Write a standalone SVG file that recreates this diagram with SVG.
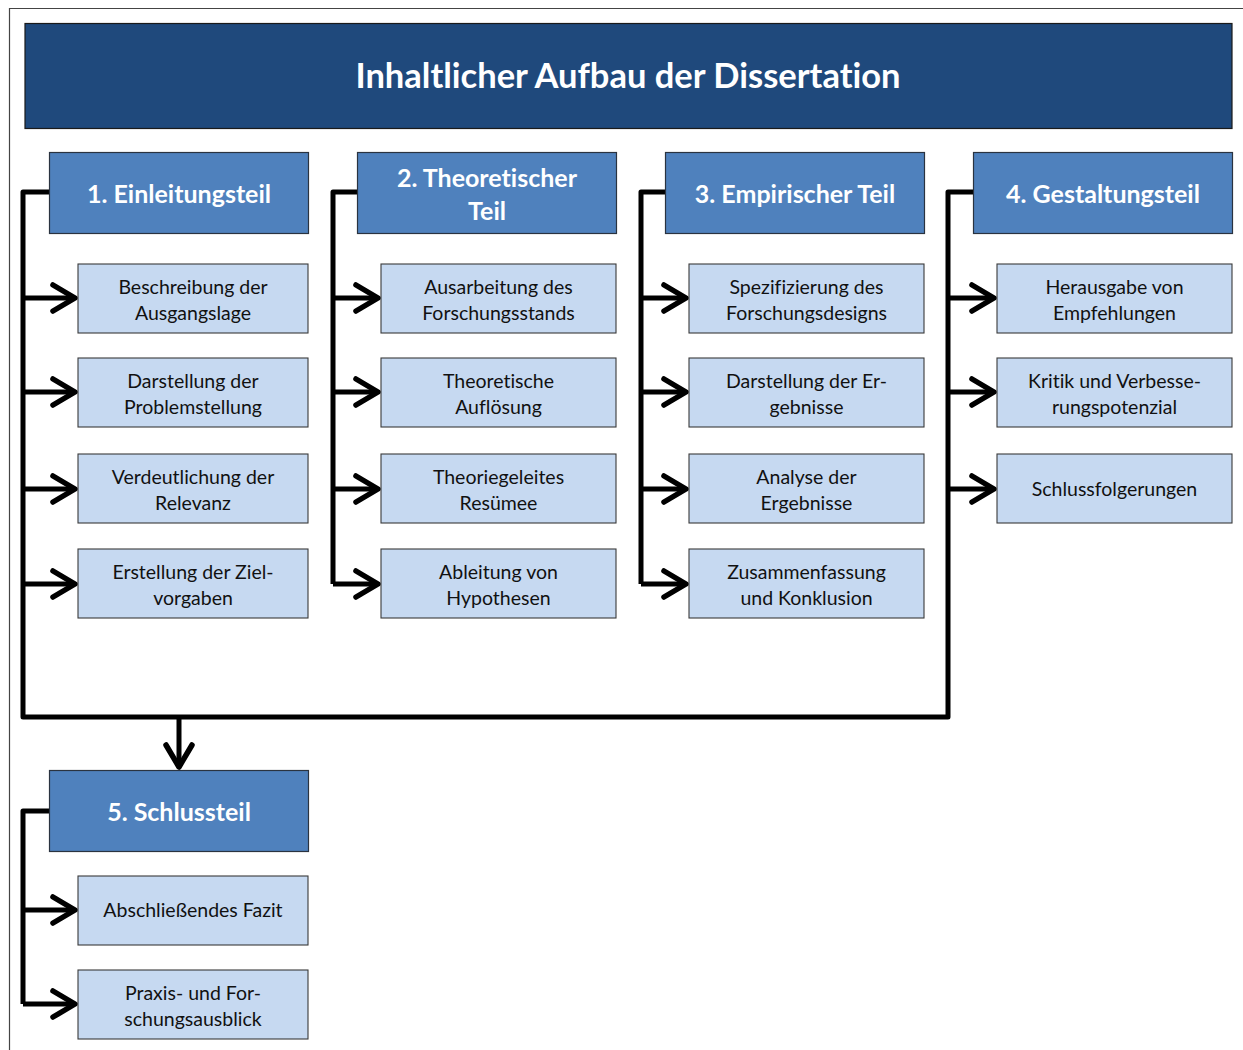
<svg xmlns="http://www.w3.org/2000/svg" width="1243" height="1050" viewBox="0 0 1243 1050">
  <defs>
    <style>
      .title { fill: #1F497C; stroke: #1a1a1a; stroke-width: 1.2; }
      .head { fill: #4F81BD; stroke: #2a3340; stroke-width: 1.2; }
      .item { fill: #C6D9F1; stroke: #3a3a3a; stroke-width: 1.1; }
      text { font-variant-ligatures: none; font-feature-settings: "liga" 0; }
      .t-title { font-family: Lato, "Open Sans", sans-serif; font-weight: bold; font-size: 34.5px; fill: #ffffff; text-anchor: middle; }
      .t-head { font-family: Lato, "Open Sans", sans-serif; font-weight: bold; font-size: 25px; fill: #ffffff; text-anchor: middle; }
      .t-item { font-family: Lato, "Open Sans", sans-serif; font-size: 19.5px; fill: #111111; text-anchor: middle; }
      .wire { fill: none; stroke: #000000; stroke-width: 5; stroke-linejoin: round; }
      .arrow { marker-end: url(#chev); }
    </style>
    <marker id="chev" markerUnits="userSpaceOnUse" viewBox="-30 -18 34 36" markerWidth="34" markerHeight="36" refX="0" refY="0" orient="auto" overflow="visible">
      <path d="M-22,-13 L0,0 L-22,13" fill="none" stroke="#000000" stroke-width="5.5" stroke-linejoin="round" stroke-linecap="round"/>
    </marker>
  </defs>

  <rect width="1243" height="1050" fill="#ffffff"/>
  <!-- page frame -->
  <path d="M9.5,1050 V8.5 H1243" fill="none" stroke="#444444" stroke-width="1.2"/>

  <!-- connectors -->
  <g id="connectors">
    <path class="wire" d="M49,192 H23 V717 H948 V192 H973"/>
    <path class="wire arrow" d="M179,717 V767"/>
    <path class="wire arrow" d="M23,298 H75"/>
    <path class="wire arrow" d="M23,392 H75"/>
    <path class="wire arrow" d="M23,489 H75"/>
    <path class="wire arrow" d="M23,584 H75"/>

    <path class="wire" d="M357,192 H333 V584"/>
    <path class="wire arrow" d="M333,298 H378"/>
    <path class="wire arrow" d="M333,392 H378"/>
    <path class="wire arrow" d="M333,489 H378"/>
    <path class="wire arrow" d="M333,584 H378"/>

    <path class="wire" d="M665,192 H641 V584"/>
    <path class="wire arrow" d="M641,298 H686"/>
    <path class="wire arrow" d="M641,392 H686"/>
    <path class="wire arrow" d="M641,489 H686"/>
    <path class="wire arrow" d="M641,584 H686"/>

    <path class="wire arrow" d="M948,298 H994"/>
    <path class="wire arrow" d="M948,392 H994"/>
    <path class="wire arrow" d="M948,489 H994"/>

    <path class="wire" d="M49,811 H23 V1004"/>
    <path class="wire arrow" d="M23,910 H75"/>
    <path class="wire arrow" d="M23,1004 H75"/>
  </g>

  <!-- title -->
  <g id="title">
    <rect class="title" x="25" y="23.5" width="1207" height="105"/>
    <text class="t-title" x="628" y="88">Inhaltlicher Aufbau der Dissertation</text>
  </g>

  <!-- section 1 -->
  <g id="s1">
    <rect class="head" x="49.5" y="152.5" width="259" height="81"/>
    <text class="t-head" x="179" y="203">1. Einleitungsteil</text>
  </g>
  <g id="s1a"><rect class="item" x="78" y="264" width="230" height="69"/>
    <text class="t-item" x="193" y="294">Beschreibung der</text><text class="t-item" x="193" y="320">Ausgangslage</text></g>
  <g id="s1b"><rect class="item" x="78" y="358" width="230" height="69"/>
    <text class="t-item" x="193" y="388">Darstellung der</text><text class="t-item" x="193" y="414">Problemstellung</text></g>
  <g id="s1c"><rect class="item" x="78" y="454" width="230" height="69"/>
    <text class="t-item" x="193" y="484">Verdeutlichung der</text><text class="t-item" x="193" y="510">Relevanz</text></g>
  <g id="s1d"><rect class="item" x="78" y="549" width="230" height="69"/>
    <text class="t-item" x="193" y="579">Erstellung der Ziel-</text><text class="t-item" x="193" y="605">vorgaben</text></g>

  <!-- section 2 -->
  <g id="s2">
    <rect class="head" x="357.5" y="152.5" width="259" height="81"/>
    <text class="t-head" x="487" y="187">2. Theoretischer</text>
    <text class="t-head" x="487" y="220">Teil</text>
  </g>
  <g id="s2a"><rect class="item" x="381" y="264" width="235" height="69"/>
    <text class="t-item" x="498.5" y="294">Ausarbeitung des</text><text class="t-item" x="498.5" y="320">Forschungsstands</text></g>
  <g id="s2b"><rect class="item" x="381" y="358" width="235" height="69"/>
    <text class="t-item" x="498.5" y="388">Theoretische</text><text class="t-item" x="498.5" y="414">Auflösung</text></g>
  <g id="s2c"><rect class="item" x="381" y="454" width="235" height="69"/>
    <text class="t-item" x="498.5" y="484">Theoriegeleites</text><text class="t-item" x="498.5" y="510">Resümee</text></g>
  <g id="s2d"><rect class="item" x="381" y="549" width="235" height="69"/>
    <text class="t-item" x="498.5" y="579">Ableitung von</text><text class="t-item" x="498.5" y="605">Hypothesen</text></g>

  <!-- section 3 -->
  <g id="s3">
    <rect class="head" x="665.5" y="152.5" width="259" height="81"/>
    <text class="t-head" x="795" y="203">3. Empirischer Teil</text>
  </g>
  <g id="s3a"><rect class="item" x="689" y="264" width="235" height="69"/>
    <text class="t-item" x="806.5" y="294">Spezifizierung des</text><text class="t-item" x="806.5" y="320">Forschungsdesigns</text></g>
  <g id="s3b"><rect class="item" x="689" y="358" width="235" height="69"/>
    <text class="t-item" x="806.5" y="388">Darstellung der Er-</text><text class="t-item" x="806.5" y="414">gebnisse</text></g>
  <g id="s3c"><rect class="item" x="689" y="454" width="235" height="69"/>
    <text class="t-item" x="806.5" y="484">Analyse der</text><text class="t-item" x="806.5" y="510">Ergebnisse</text></g>
  <g id="s3d"><rect class="item" x="689" y="549" width="235" height="69"/>
    <text class="t-item" x="806.5" y="579">Zusammenfassung</text><text class="t-item" x="806.5" y="605">und Konklusion</text></g>

  <!-- section 4 -->
  <g id="s4">
    <rect class="head" x="973.5" y="152.5" width="259" height="81"/>
    <text class="t-head" x="1103" y="203">4. Gestaltungsteil</text>
  </g>
  <g id="s4a"><rect class="item" x="997" y="264" width="235" height="69"/>
    <text class="t-item" x="1114.5" y="294">Herausgabe von</text><text class="t-item" x="1114.5" y="320">Empfehlungen</text></g>
  <g id="s4b"><rect class="item" x="997" y="358" width="235" height="69"/>
    <text class="t-item" x="1114.5" y="388">Kritik und Verbesse-</text><text class="t-item" x="1114.5" y="414">rungspotenzial</text></g>
  <g id="s4c"><rect class="item" x="997" y="454" width="235" height="69"/>
    <text class="t-item" x="1114.5" y="496">Schlussfolgerungen</text></g>

  <!-- section 5 -->
  <g id="s5">
    <rect class="head" x="49.5" y="770.5" width="259" height="81"/>
    <text class="t-head" x="179" y="821">5. Schlussteil</text>
  </g>
  <g id="s5a"><rect class="item" x="78" y="876" width="230" height="69"/>
    <text class="t-item" x="193" y="917">Abschließendes Fazit</text></g>
  <g id="s5b"><rect class="item" x="78" y="970" width="230" height="69"/>
    <text class="t-item" x="193" y="1000">Praxis- und For-</text><text class="t-item" x="193" y="1026">schungsausblick</text></g>
</svg>
